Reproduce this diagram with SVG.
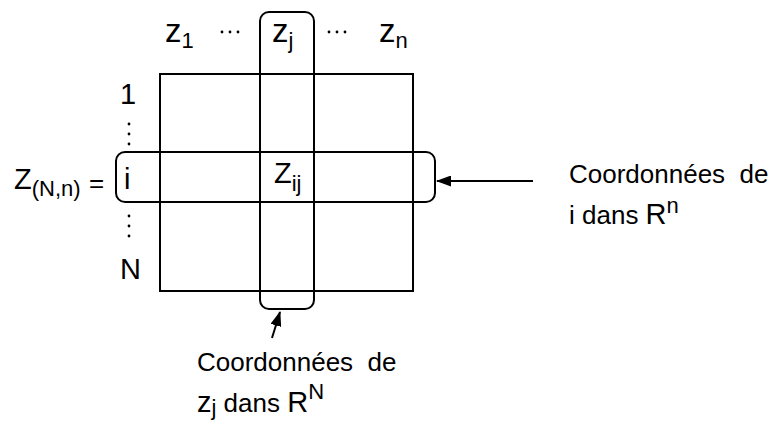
<svg xmlns="http://www.w3.org/2000/svg" width="776" height="423" viewBox="0 0 776 423">
<defs>
<style>
text{font-family:"Liberation Sans",Arial,sans-serif;fill:#000}
.ln{fill:none;stroke:#000;stroke-width:2}
.t{font-size:26px}
.m{font-size:29px}
.z{font-size:33px}
.s{font-size:22px}
.dot{fill:#000}
</style>
<marker id="ah" viewBox="0 0 15 11" refX="14" refY="5.5" markerWidth="15" markerHeight="11" markerUnits="userSpaceOnUse" orient="auto">
<path d="M0,0 L15,5.5 L0,11 Z" fill="#000"/>
</marker>
</defs>
<rect width="776" height="423" fill="#fff"/>
<g id="matrix">
<rect class="ln" x="160" y="74" width="253" height="217"/>
</g>
<g id="column">
<rect class="ln" x="260" y="12" width="54" height="297" rx="9"/>
</g>
<g id="row">
<rect class="ln" x="116" y="152" width="319" height="50" rx="9"/>
</g>
<g id="col-labels">
<text class="z" x="165" y="42">z<tspan class="s" dy="6">1</tspan></text>
<text class="z" x="272" y="42">z<tspan class="s" dy="6">j</tspan></text>
<text class="z" x="379" y="42">z<tspan class="s" dy="6">n</tspan></text>
<circle class="dot" cx="222" cy="32" r="1.4"/><circle class="dot" cx="230" cy="32" r="1.4"/><circle class="dot" cx="238" cy="32" r="1.4"/>
<circle class="dot" cx="329" cy="32" r="1.4"/><circle class="dot" cx="337" cy="32" r="1.4"/><circle class="dot" cx="345" cy="32" r="1.4"/>
</g>
<g id="row-labels">
<text class="m" x="120" y="104">1</text>
<circle class="dot" cx="129" cy="124" r="1.4"/><circle class="dot" cx="129" cy="134" r="1.4"/><circle class="dot" cx="129" cy="144" r="1.4"/>
<text class="m" x="124" y="189">i</text>
<circle class="dot" cx="129" cy="216" r="1.4"/><circle class="dot" cx="129" cy="226" r="1.4"/><circle class="dot" cx="129" cy="236" r="1.4"/>
<text class="m" x="120" y="279">N</text>
</g>
<g id="zname">
<text class="m" x="14" y="189">Z<tspan class="s" dy="7">(N,n)</tspan></text>
<text class="t" x="89" y="192">=</text>
</g>
<g id="zij">
<text class="m" x="274" y="183">Z<tspan class="s" dy="8">ij</tspan></text>
</g>
<g id="label-row">
<text class="t" x="569" y="183">Coordonnées&#160; de</text>
<text class="t" x="569" y="224">i dans <tspan class="m">R</tspan><tspan class="s" dy="-11">n</tspan></text>
</g>
<g id="label-col">
<text class="t" x="197" y="371">Coordonnées&#160; de</text>
<text class="t" x="197" y="412"><tspan class="m">z</tspan><tspan class="s" dy="3">j</tspan><tspan dy="-3"> dans </tspan><tspan class="m">R</tspan><tspan class="s" dy="-13">N</tspan></text>
</g>
<g id="connectors">
<line class="ln" x1="533" y1="181" x2="437" y2="181" marker-end="url(#ah)"/>
<line class="ln" x1="272" y1="338" x2="280" y2="312" marker-end="url(#ah)"/>
</g>
</svg>
